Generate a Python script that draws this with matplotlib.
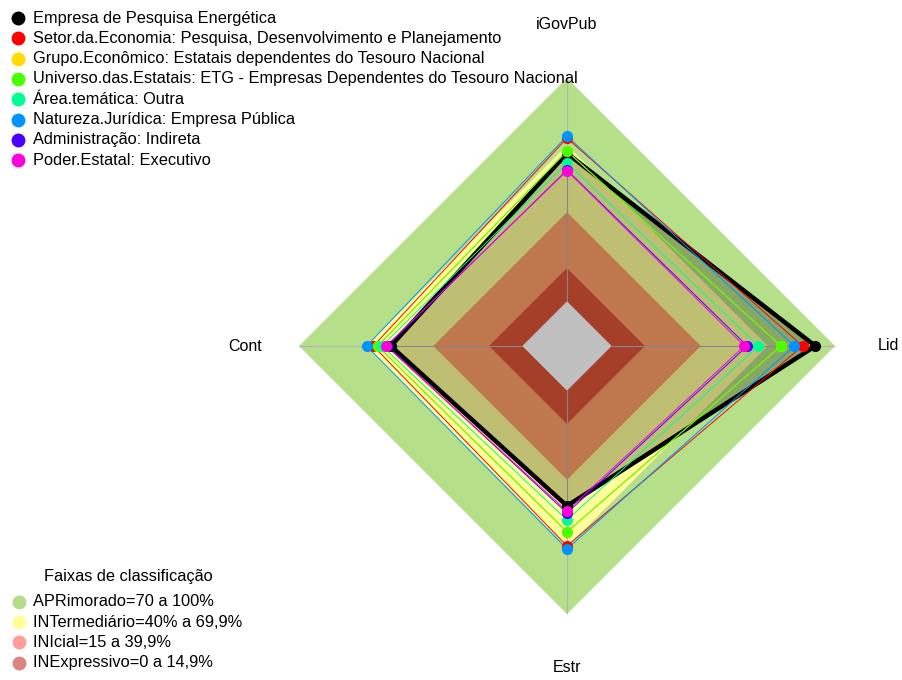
import numpy as np
import matplotlib
matplotlib.use("Agg")
import matplotlib.pyplot as plt
from matplotlib.lines import Line2D

plt.rcParams['font.family'] = ['Liberation Sans', 'DejaVu Sans']

# axes in drawing order (clockwise from top)
axes_labels = ['iGovPub', 'Lid', 'Estr', 'Cont']

series_names = [
    'Empresa de Pesquisa Energética',
    'Setor.da.Economia: Pesquisa, Desenvolvimento e Planejamento',
    'Grupo.Econômico: Estatais dependentes do Tesouro Nacional',
    'Universo.das.Estatais: ETG - Empresas Dependentes do Tesouro Nacional',
    'Área.temática: Outra',
    'Natureza.Jurídica: Empresa Pública',
    'Administração: Indireta',
    'Poder.Estatal: Executivo',
]
series_colors = ['#000000', '#FF0000', '#FFDB00', '#49FF00',
                 '#00FF92', '#0092FF', '#4900FF', '#FF00DB']

# values (%) per axis: iGovPub, Lid, Estr, Cont
empresa = [66.3, 91.2, 51.6, 58.9]
setor = [73.1, 85.5, 69.5, 66.7]
grupo = [67.3, 75.8, 63.2, 64.8]
universo = [67.3, 75.8, 63.2, 64.8]
area = [62.1, 65.7, 57.9, 62.8]
natureza = [74.0, 81.8, 70.9, 69.7]
administracao = [58.8, 60.7, 54.8, 60.5]
poder = [58.5, 59.4, 53.9, 61.0]
series_values = [empresa, setor, grupo, universo, area, natureza,
                 administracao, poder]

# classification bands
band_labels = ['APRimorado=70 a 100%', 'INTermediário=40% a 69,9%',
               'INIcial=15 a 39,9%', 'INExpressivo=0 a 14,9%']
band_limits = [100, 69.9, 39.9, 14.9, 0]
band_fill = ['#B6DF8A', '#FFFF9C', '#FFA068', '#DD5539', '#FFFFFF']
band_legend_colors = ['#B5DC88', '#FFFF99', '#FF9C9C', '#DE8282']

theta = np.linspace(0, 2 * np.pi, len(axes_labels), endpoint=False)


def radar_xy(vals, close=True):
    """Map values (0-100) to x, y with a centre gap of 1/6 (fmsb style)."""
    vals = np.asarray(vals, dtype=float)
    r = (vals + 20) / 120
    x = r * np.sin(theta)
    y = r * np.cos(theta)
    if close:
        x = np.append(x, x[0])
        y = np.append(y, y[0])
    return x, y


W, H = 903, 680
fig = plt.figure(figsize=(W / 100, H / 100), dpi=100)

cx, cy, R = 567, 346, 268
ax = fig.add_axes([(cx - R) / W, (H - cy - R) / H, 2 * R / W, 2 * R / H])
ax.set_xlim(-1, 1)
ax.set_ylim(-1, 1)
ax.axis('off')

# bands
for lim, col in zip(band_limits, band_fill):
    x, y = radar_xy([lim] * len(theta))
    ax.fill(x, y, color=col, lw=0, zorder=1)

# axis lines
x0, y0 = radar_xy([0] * len(theta), close=False)
x1, y1 = radar_xy([100] * len(theta), close=False)
for a, b, c, d in zip(x0, y0, x1, y1):
    ax.plot([a, c], [b, d], color='#B4B4B4', lw=0.8, zorder=2)

# series
for i, (name, vals, col) in enumerate(zip(series_names, series_values,
                                          series_colors)):
    x, y = radar_xy(vals)
    if i == 0:
        ax.fill(x, y, color='black', alpha=0.25, lw=0, zorder=3)
        ax.plot(x, y, color=col, lw=3.2, zorder=4)
    else:
        ax.plot(x, y, color=col, lw=0.7, zorder=4)
    ax.plot(x[:-1], y[:-1], 'o', color=col, ms=8, mec='none', zorder=5)

# axis labels
xl, yl = radar_xy([124] * len(theta), close=False)
for a, b, lab in zip(xl, yl, axes_labels):
    ax.text(a, b, lab, ha='center', va='center', fontsize=11.5,
            clip_on=False)

# series legend (top left)
for i, (name, col) in enumerate(zip(series_names, series_colors)):
    y = 1 - (18 + 20.3 * i) / H
    fig.add_artist(Line2D([18 / W], [y], marker='o', ms=10, color=col,
                          mec='none', transform=fig.transFigure))
    fig.text(33 / W, y, name, ha='left', va='center', fontsize=11.8)

# bands legend (bottom left)
fig.text(128 / W, 1 - 577 / H, 'Faixas de classificação', ha='center',
         va='center', fontsize=11.8)
for i, (lab, col) in enumerate(zip(band_labels, band_legend_colors)):
    y = 1 - (602 + 20.2 * i) / H
    fig.add_artist(Line2D([19 / W], [y], marker='o', ms=10, color=col,
                          mec='none', transform=fig.transFigure))
    fig.text(33 / W, y, lab, ha='left', va='center', fontsize=11.8)

fig.savefig('out.png', dpi=100)
